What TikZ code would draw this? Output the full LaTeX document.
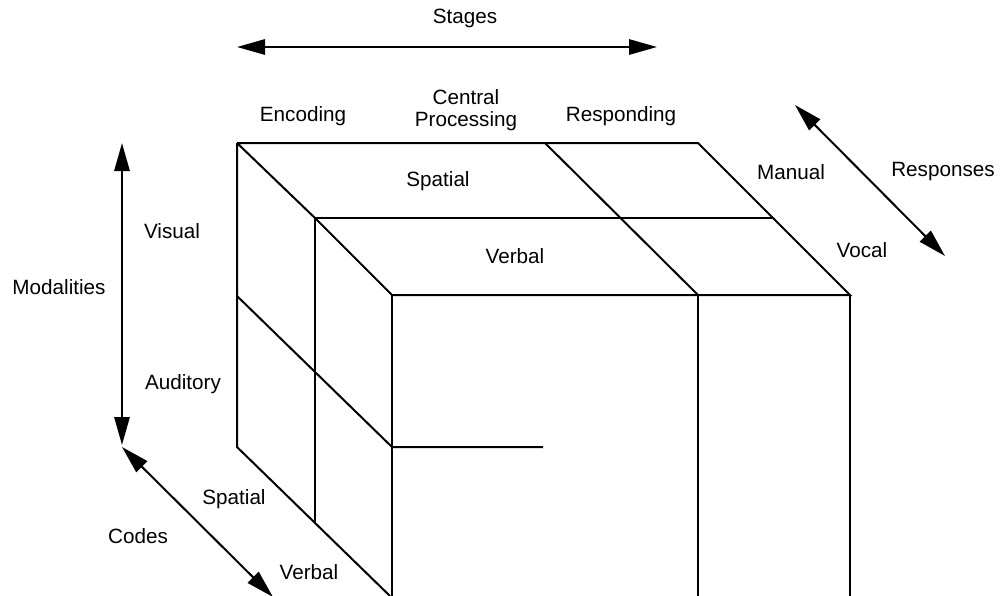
\documentclass[tikz,border=0pt]{standalone}
\usepackage{fontspec}
\setmainfont{Liberation Sans}
\usetikzlibrary{arrows.meta}
\tikzset{
  edge/.style={line width=1.5pt, line cap=butt, line join=miter},
  dblarrow/.style={line width=1.5pt, {Triangle[length=21pt,width=11.5pt]}-{Triangle[length=21pt,width=11.5pt]}},
  lbl/.style={inner sep=0pt, font=\fontsize{15.5}{18}\selectfont, align=center}
}
\begin{document}
\begin{tikzpicture}[x=0.75pt,y=-0.75pt]
\useasboundingbox (0,0) rectangle (1000,596);
% corners
\coordinate (A) at (237,143);
\coordinate (B) at (545,143);
\coordinate (C) at (698,143);
\coordinate (D) at (315,218);
\coordinate (E) at (773,218);
\coordinate (F) at (392,295);
\coordinate (G) at (698,295);
\coordinate (H) at (850,295);
\coordinate (L1) at (237,296);
\coordinate (L2) at (392,447);
\coordinate (L3) at (543,447);
\coordinate (LB) at (237,447);
\coordinate (DB) at (315,522);
\coordinate (FB) at (392,596);
\coordinate (GB) at (698,596);
\coordinate (HB) at (850,596);
\coordinate (LBB) at (390,596);
% cube lines
\draw[edge] (A) -- (C) -- (H) -- (F) -- (D) -- (A);
\draw[edge] (D) -- (E);
\draw[edge] (B) -- (G);
\draw[edge] (A) -- (LB) -- (LBB);
\draw[edge] (D) -- (DB);
\draw[edge] (L1) -- (L2) -- (L3);
\draw[edge] (F) -- (FB);
\draw[edge] (G) -- (GB);
\draw[edge] (H) -- (HB);
% axis arrows
\coordinate (s1) at (237,47);
\coordinate (s2) at (657,47);
\coordinate (m1) at (122,143);
\coordinate (m2) at (122,445);
\coordinate (r1) at (795,105);
\coordinate (r2) at (945,256);
\coordinate (c1) at (122,447);
\coordinate (c2) at (273,597);
\draw[dblarrow] (s1) -- (s2);
\draw[dblarrow] (m1) -- (m2);
\draw[dblarrow] (r1) -- (r2);
\draw[dblarrow] (c1) -- (c2);
% labels
\node[lbl] (stages) at (465,18) {Stages};
\node[lbl] (enc) at (303,116) {Encoding};
\node[lbl] (cp) at (466,110) {Central\\[-2pt]Processing};
\node[lbl] (resp) at (621,116) {Responding};
\node[lbl] (tspat) at (438,181) {Spatial};
\node[lbl] (tverb) at (515,256) {Verbal};
\node[lbl] (man) at (791,172) {Manual};
\node[lbl] (rsps) at (943,172) {Responses};
\node[lbl] (voc) at (862,250) {Vocal};
\node[lbl] (vis) at (172,231) {Visual};
\node[lbl] (mod) at (59,287) {Modalities};
\node[lbl] (aud) at (183,384) {Auditory};
\node[lbl] (lspat) at (234,499) {Spatial};
\node[lbl] (codes) at (138,536) {Codes};
\node[lbl] (lverb) at (309,572) {Verbal};
\end{tikzpicture}
\end{document}
